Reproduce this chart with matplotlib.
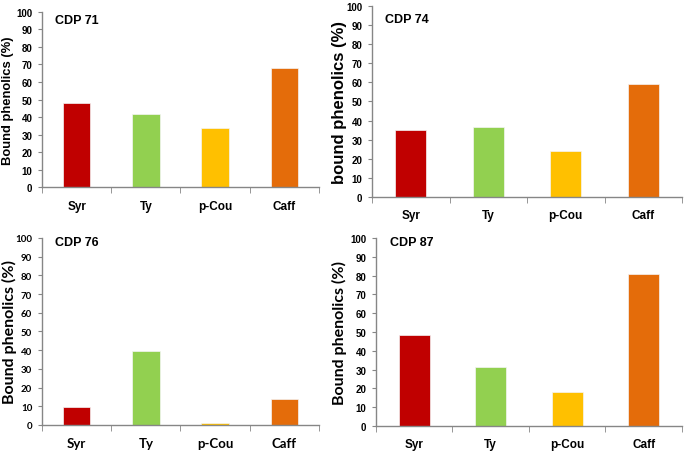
import numpy as np
import matplotlib.pyplot as plt

CATEGORIES = ['Syr', 'Ty', 'p-Cou', 'Caff']
BAR_COLORS = ['#C00000', '#92D050', '#FFC000', '#E46C0A']

TITLES = ['CDP 71', 'CDP 74', 'CDP 76', 'CDP 87']
YLABELS = ['Bound phenolics (%)', 'bound phenolics (%)',
           'Bound phenolics (%)', 'Bound phenolics (%)']

CDP71 = [48, 42, 33.5, 68]
CDP74 = [35, 36.5, 24, 59]
CDP76 = [9.5, 39.5, 1, 14]
CDP87 = [48.5, 31.5, 18, 81]

# axes boxes in figure fractions: left, bottom, width, height
BOXES = [
    [0.0613, 0.5877, 0.4044, 0.3838],
    [0.5431, 0.5658, 0.4526, 0.4189],
    [0.0613, 0.0658, 0.4044, 0.4101],
    [0.5489, 0.0636, 0.4467, 0.4123],
]
LABEL_X = [-0.101, -0.081, -0.09, -0.095]
LABEL_SIZE = [9.4, 12, 11.5, 11.5]
TITLE_POS = [(0.047, 0.99), (0.042, 0.962), (0.047, 1.012), (0.046, 1.012)]
AXIS_GRAY = '#868686'


def draw_panel(fig, box, values, title, ylabel, label_x, label_size, title_pos,
               alt_font=False, alt_label=False):
    ax = fig.add_axes(box)
    x = np.arange(len(CATEGORIES))
    ax.bar(x, values, width=0.4, color=BAR_COLORS, edgecolor='#f4f4f4', linewidth=0.5)

    ax.set_xlim(-0.5, len(CATEGORIES) - 0.5)
    ax.set_ylim(0, 100)
    ax.set_yticks(np.arange(0, 101, 10))

    fam = 'Lato' if alt_font else 'Liberation Sans'
    ax.set_xticks(x)
    ax.set_xticklabels(CATEGORIES, fontsize=8.5 if not alt_font else 9.5,
                       fontweight='bold', family=fam)
    ax.set_xticks(np.arange(-0.5, len(CATEGORIES)), minor=True)
    ax.tick_params(axis='x', which='major', length=0, pad=9)
    ax.tick_params(axis='x', which='minor', length=4, color=AXIS_GRAY, direction='out')
    ax.tick_params(axis='y', length=3, color=AXIS_GRAY, pad=4)
    for lab in ax.get_yticklabels():
        lab.set_fontsize(7)
        lab.set_fontweight('bold')
        lab.set_family(fam)

    for side in ['top', 'right']:
        ax.spines[side].set_visible(False)
    for side in ['left', 'bottom']:
        ax.spines[side].set_color(AXIS_GRAY)
        ax.spines[side].set_linewidth(1.0)

    ax.set_ylabel(ylabel, fontsize=label_size, fontweight='bold',
                  family='Lato' if alt_label else 'Liberation Sans')
    ax.yaxis.set_label_coords(label_x, 0.5)

    ax.text(title_pos[0], title_pos[1], title, transform=ax.transAxes, fontsize=9,
            fontweight='bold', family='Liberation Sans', va='top', ha='left')
    return ax


def main():
    fig = plt.figure(figsize=(6.85, 4.56), dpi=100)
    data = [CDP71, CDP74, CDP76, CDP87]
    for i in range(4):
        draw_panel(fig, BOXES[i], data[i], TITLES[i], YLABELS[i], LABEL_X[i],
                   LABEL_SIZE[i], TITLE_POS[i],
                   alt_font=(i == 2), alt_label=(i >= 2))
    fig.savefig('out.png', dpi=100)


if __name__ == '__main__':
    main()
